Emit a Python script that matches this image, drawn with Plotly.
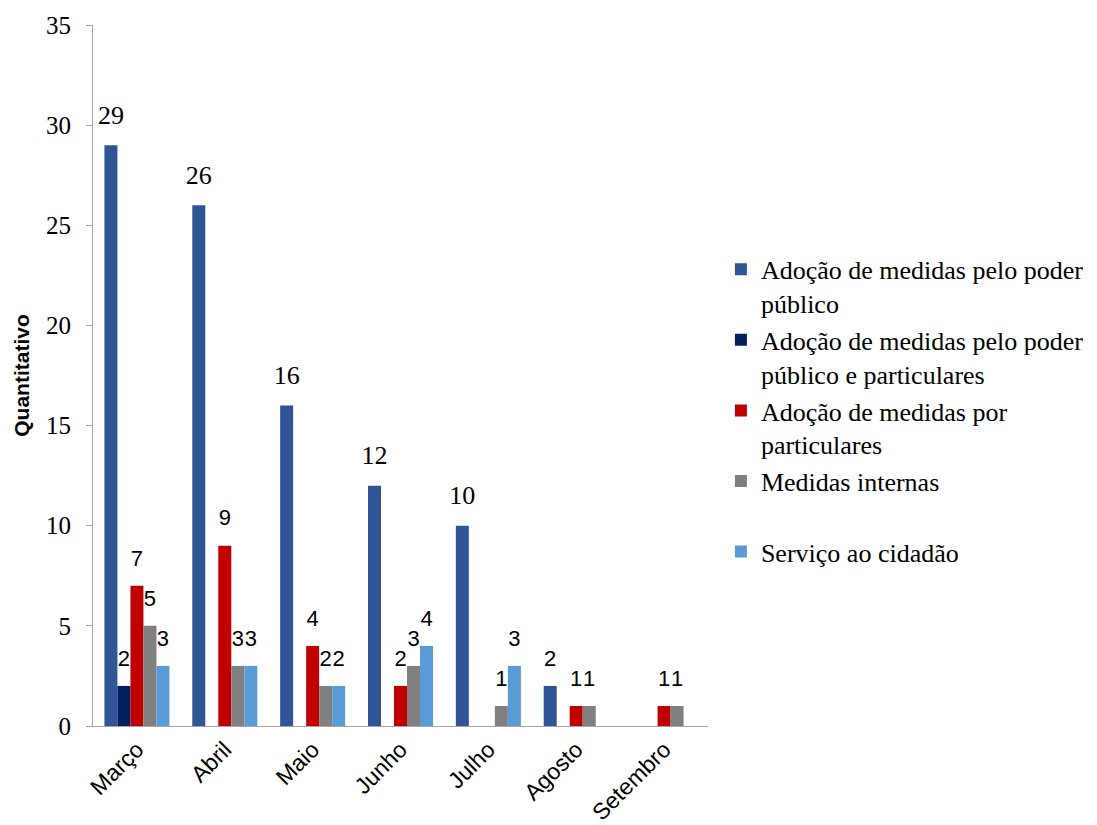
import plotly.graph_objects as go

categories = ["Março", "Abril", "Maio", "Junho", "Julho", "Agosto", "Setembro"]
series_names = [
    "Adoção de medidas pelo poder<br>público",
    "Adoção de medidas pelo poder<br>público e particulares",
    "Adoção de medidas por<br>particulares",
    "Medidas internas<br>\u00a0",
    "Serviço ao cidadão",
]
poder_publico = [29, 26, 16, 12, 10, 2, 0]
poder_publico_particulares = [2, 0, 0, 0, 0, 0, 0]
particulares = [7, 9, 4, 2, 0, 1, 1]
medidas_internas = [5, 3, 2, 3, 1, 1, 1]
servico_cidadao = [3, 3, 2, 4, 3, 0, 0]
colors = ["#2F5597", "#002060", "#C00000", "#808080", "#5B9BD5"]

all_series = [poder_publico, poder_publico_particulares, particulares,
              medidas_internas, servico_cidadao]

fig = go.Figure()
for i, (name, vals, col) in enumerate(zip(series_names, all_series, colors)):
    fig.add_trace(go.Bar(
        x=categories, y=vals, name=name, legendgroup=f"g{i}",
        marker=dict(color=col, line=dict(width=0)),
        hoverinfo="x+y",
    ))

# value labels, grouped like the bars
for i, (vals, col) in enumerate(zip(all_series, colors)):
    fams = ["Liberation Serif" if v >= 10 else "Liberation Sans" for v in vals]
    sizes = [26 if v >= 10 else 22 for v in vals]
    fig.add_trace(go.Scatter(
        x=categories, y=vals, mode="markers+text", showlegend=False,
        legendgroup=f"g{i}", hoverinfo="skip",
        marker=dict(size=22, opacity=0, color=col),
        text=[str(v) if v else "" for v in vals],
        textposition="top center", cliponaxis=False,
        textfont=dict(family=fams, size=sizes, color="#000000"),
    ))

fig.update_layout(
    width=1097, height=825,
    margin=dict(l=85, r=397, t=17, b=107),
    paper_bgcolor="white", plot_bgcolor="white",
    barmode="group", bargap=0.26, bargroupgap=0,
    scattermode="group", scattergap=0.26,
    showlegend=True,
    legend=dict(
        x=1.021, y=0.685, xanchor="left", yanchor="top",
        font=dict(family="Liberation Serif", size=26, color="#000000"),
        valign="top", tracegroupgap=0, itemwidth=30,
    ),
    xaxis=dict(
        automargin=False,
        showline=True, linecolor="#A6A6A6", linewidth=1,
        tickangle=-45, ticks="",
        tickfont=dict(family="Liberation Sans", size=23, color="#000000"),
    ),
    yaxis=dict(
        automargin=False,
        range=[0, 35], dtick=5, showgrid=False, zeroline=False,
        showline=True, linecolor="#A6A6A6", linewidth=1,
        ticks="outside", ticklen=6, tickcolor="#A6A6A6",
        ticklabelstandoff=10,
        tickfont=dict(family="Liberation Serif", size=25, color="#000000"),
        title=dict(text="<b>Quantitativo</b>", standoff=10,
                   font=dict(family="Liberation Sans", size=21, color="#000000")),
    ),
)

fig.write_html("out.html")
